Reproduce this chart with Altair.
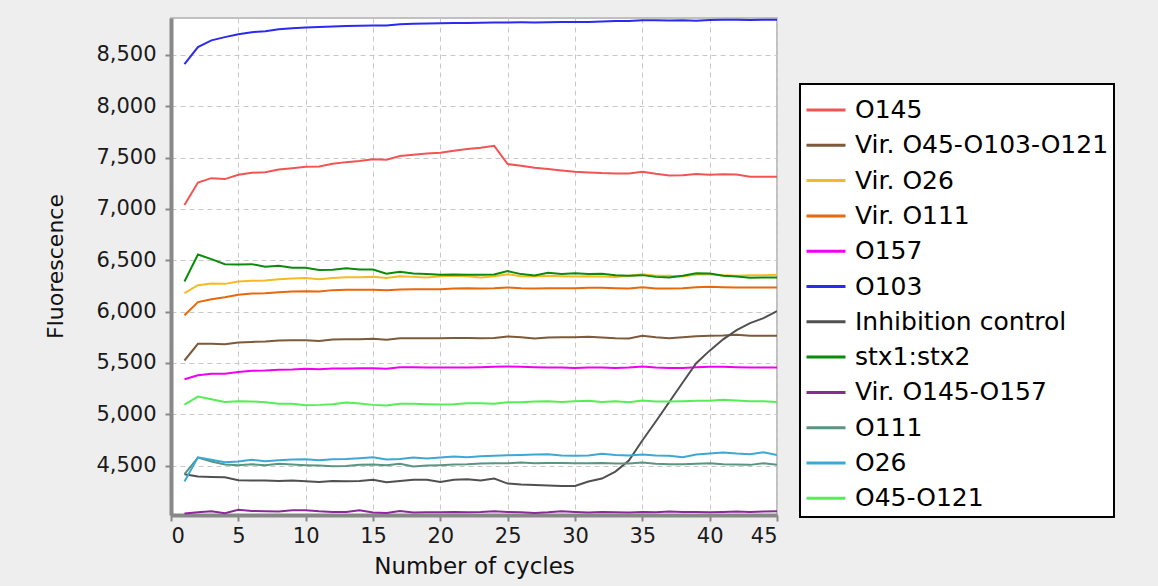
import altair as alt
import pandas as pd

cycles = list(range(1, 46))

series_names = [
    "O145", "Vir. O45-O103-O121", "Vir. O26", "Vir. O111", "O157", "O103",
    "Inhibition control", "stx1:stx2", "Vir. O145-O157", "O111", "O26", "O45-O121",
]
series_colors = [
    "#f25454", "#7d5a3a", "#f7b924", "#e8680c", "#f000f0", "#2a2af0",
    "#505050", "#0a8c0a", "#8a2a96", "#5a9580", "#3ca8d4", "#55ee55",
]

o145 = [7037, 7257, 7299, 7290, 7332, 7351, 7357, 7383, 7396, 7409,
        7413, 7439, 7455, 7465, 7484, 7478, 7514, 7526, 7539, 7546,
        7565, 7582, 7594, 7614, 7436, 7419, 7400, 7387, 7374, 7361,
        7354, 7348, 7345, 7345, 7361, 7341, 7325, 7328, 7340, 7332,
        7338, 7335, 7312, 7312, 7312]
vir_o45_o103_o121 = [5524, 5686, 5686, 5683, 5699, 5705, 5709, 5718, 5722, 5722,
                     5715, 5728, 5731, 5731, 5735, 5725, 5741, 5741, 5741, 5741,
                     5744, 5744, 5741, 5744, 5758, 5751, 5738, 5748, 5751, 5751,
                     5754, 5748, 5741, 5738, 5764, 5751, 5741, 5751, 5761, 5764,
                     5767, 5774, 5764, 5764, 5764]
vir_o26 = [6179, 6257, 6274, 6270, 6293, 6300, 6303, 6316, 6322, 6326,
           6316, 6326, 6335, 6335, 6338, 6326, 6345, 6338, 6332, 6345,
           6348, 6345, 6332, 6345, 6364, 6345, 6342, 6348, 6345, 6342,
           6345, 6342, 6338, 6348, 6364, 6348, 6348, 6342, 6361, 6364,
           6355, 6348, 6355, 6355, 6358]
vir_o111 = [5965, 6092, 6121, 6140, 6163, 6176, 6179, 6189, 6196, 6199,
            6196, 6209, 6212, 6212, 6212, 6209, 6215, 6218, 6218, 6218,
            6225, 6228, 6225, 6228, 6235, 6228, 6225, 6228, 6228, 6228,
            6231, 6231, 6228, 6225, 6238, 6225, 6225, 6228, 6238, 6241,
            6238, 6235, 6235, 6235, 6235]
o157 = [5342, 5381, 5394, 5394, 5413, 5423, 5426, 5433, 5436, 5443,
        5439, 5446, 5446, 5449, 5449, 5443, 5459, 5459, 5456, 5456,
        5456, 5456, 5459, 5462, 5465, 5462, 5459, 5456, 5456, 5452,
        5456, 5456, 5452, 5456, 5465, 5456, 5452, 5452, 5459, 5462,
        5462, 5459, 5456, 5456, 5456]
o103 = [8410, 8575, 8640, 8672, 8700, 8720, 8730, 8748, 8758, 8765,
        8770, 8775, 8780, 8783, 8786, 8784, 8798, 8802, 8804, 8808,
        8810, 8810, 8812, 8815, 8815, 8816, 8815, 8816, 8818, 8818,
        8820, 8825, 8828, 8830, 8835, 8836, 8834, 8836, 8832, 8838,
        8842, 8840, 8838, 8840, 8840]
inhibition_control = [4417, 4394, 4391, 4388, 4359, 4356, 4356, 4352, 4356, 4349,
                      4342, 4352, 4349, 4352, 4362, 4339, 4352, 4362, 4362, 4342,
                      4362, 4368, 4356, 4375, 4326, 4316, 4313, 4307, 4303, 4303,
                      4346, 4375, 4443, 4550, 4745, 4930, 5120, 5310, 5498, 5620,
                      5730, 5820, 5888, 5936, 6005]
stx1_stx2 = [6293, 6556, 6511, 6462, 6458, 6462, 6436, 6446, 6426, 6426,
             6404, 6407, 6423, 6410, 6410, 6368, 6387, 6371, 6365, 6358,
             6361, 6358, 6358, 6361, 6394, 6365, 6352, 6377, 6365, 6374,
             6365, 6368, 6355, 6348, 6355, 6338, 6332, 6348, 6374, 6371,
             6348, 6342, 6329, 6332, 6332]
vir_o145_o157 = [4034, 4047, 4057, 4037, 4070, 4060, 4057, 4054, 4067, 4067,
                 4057, 4050, 4050, 4067, 4044, 4040, 4060, 4044, 4047, 4047,
                 4050, 4047, 4050, 4057, 4050, 4047, 4040, 4047, 4057, 4050,
                 4044, 4050, 4047, 4044, 4050, 4047, 4054, 4050, 4050, 4047,
                 4050, 4054, 4050, 4054, 4057]
o111 = [4417, 4579, 4540, 4511, 4505, 4514, 4505, 4518, 4511, 4505,
        4501, 4495, 4498, 4508, 4511, 4505, 4518, 4492, 4501, 4505,
        4511, 4514, 4521, 4524, 4524, 4531, 4524, 4527, 4527, 4524,
        4524, 4527, 4521, 4521, 4531, 4518, 4514, 4514, 4518, 4524,
        4514, 4511, 4508, 4524, 4508]
o26 = [4346, 4582, 4557, 4534, 4540, 4557, 4544, 4553, 4560, 4563,
       4553, 4563, 4566, 4573, 4582, 4560, 4566, 4579, 4570, 4579,
       4589, 4582, 4592, 4596, 4602, 4605, 4608, 4612, 4599, 4596,
       4599, 4615, 4605, 4599, 4608, 4599, 4596, 4582, 4608, 4618,
       4628, 4618, 4612, 4631, 4605]
o45_o121 = [5095, 5173, 5147, 5121, 5128, 5125, 5118, 5102, 5102, 5089,
            5092, 5099, 5115, 5105, 5092, 5086, 5102, 5102, 5099, 5095,
            5099, 5108, 5108, 5102, 5118, 5118, 5125, 5128, 5121, 5128,
            5131, 5121, 5128, 5118, 5134, 5125, 5125, 5128, 5131, 5131,
            5141, 5134, 5128, 5128, 5121]

series_values = [o145, vir_o45_o103_o121, vir_o26, vir_o111, o157, o103,
                 inhibition_control, stx1_stx2, vir_o145_o157, o111, o26, o45_o121]

x_ticks = list(range(0, 46, 5))
y_ticks = [4500, 5000, 5500, 6000, 6500, 7000, 7500, 8000, 8500]

rows = []
for name, vals in zip(series_names, series_values):
    for c, v in zip(cycles, vals):
        rows.append({"cycle": c, "value": v, "series": name})
df = pd.DataFrame(rows)

FONT = "DejaVu Sans"

chart = alt.Chart(df).mark_line(strokeWidth=2, clip=True).encode(
    x=alt.X("cycle:Q",
            scale=alt.Scale(domain=[0, 45], nice=False, zero=False),
            axis=alt.Axis(values=x_ticks, format="d", title="Number of cycles",
                          labelPadding=4, titleX=303, titleY=51,
                          titleBaseline="middle", titleAlign="center", titleFontSize=23)),
    y=alt.Y("value:Q",
            scale=alt.Scale(domain=[4020, 8858], nice=False, zero=False),
            axis=alt.Axis(values=y_ticks, format=",d", title="Fluorescence",
                          labelPadding=9, titleX=-116, titleY=248,
                          titleBaseline="middle", titleAlign="center", titleAngle=270)),
    color=alt.Color("series:N",
                    scale=alt.Scale(domain=series_names, range=series_colors),
                    legend=alt.Legend(title=None, orient="none", legendX=629, legendY=66,
                                      fillColor="white", strokeColor="black",
                                      padding=5, rowPadding=1.3, labelOffset=8,
                                      symbolType="stroke", symbolSize=1521,
                                      symbolStrokeWidth=3, labelFont=FONT,
                                      labelFontSize=25, labelColor="black",
                                      labelLimit=600)),
).properties(
    width=606,
    height=497,
    background="#eeeeee",
    padding={"left": 171, "top": 18, "right": 381, "bottom": 71},
    autosize=alt.AutoSizeParams(type="none"),
).configure_view(
    fill="white", stroke="#c0c0c0", strokeWidth=2
).configure_axis(
    labelFont=FONT, labelFontSize=21, labelColor="#1a1a1a",
    titleFont=FONT, titleFontSize=22, titleFontWeight="normal", titleColor="#111111",
    domainColor="#888888", domainWidth=4, tickColor="#888888", tickSize=6, tickWidth=2,
    gridColor="#c8c8c8", gridDash=[5, 4], gridWidth=1,
).configure_legend(strokeWidth=2)

chart.save("out.html", embed_options={"renderer": "svg", "actions": False})
